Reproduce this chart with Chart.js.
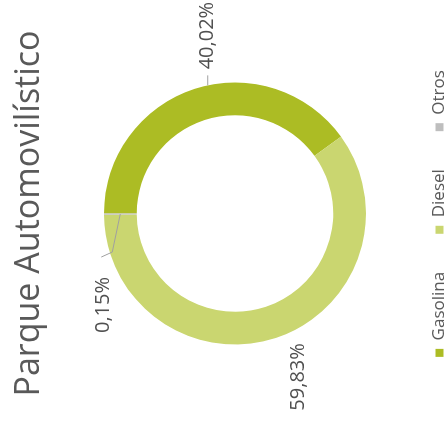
<!DOCTYPE html>
<html>
<head>
<meta charset="utf-8">
<script src="https://cdn.jsdelivr.net/npm/chart.js@4.4.0/dist/chart.umd.min.js"></script>
<style>
  html, body { margin: 0; padding: 0; background: #fff; overflow: hidden; }
  /* the whole chart is turned a quarter to the left, like the scanned page */
  #wrap { position: absolute; left: 0; top: 0; width: 427px; height: 458px;
          transform-origin: 0 0; transform: translate(0, 427px) rotate(-90deg); }
</style>
</head>
<body>
<div id="wrap"><canvas id="myChart1" width="427" height="458"></canvas></div>
<script>
let fuelTypes = ["Gasolina", "Diesel", "Otros"];
let fuelShares = [40.02, 59.83, 0.15];
let fuelColors = ['rgb(172,188,36)', 'rgb(202,214,112)', 'rgb(190,190,190)'];

// percent labels next to the ring, with leader lines
const pctLabels = {
  id: 'pctLabels',
  afterDatasetsDraw(chart, args, opts) {
    const ctx = chart.ctx;
    const meta = chart.getDatasetMeta(0);
    ctx.save();
    ctx.font = opts.font;
    ctx.fillStyle = opts.color;
    ctx.strokeStyle = opts.lineColor;
    ctx.lineWidth = 1;
    ctx.textBaseline = 'middle';
    meta.data.forEach((arc, i) => {
      const s = opts.spots[i];
      const a = (arc.startAngle + arc.endAngle) / 2 + s.turn * Math.PI / 180;
      const r = s.ring === 'mid' ? (arc.innerRadius + arc.outerRadius) / 2 : arc.outerRadius;
      const x0 = arc.x + r * Math.cos(a), y0 = arc.y + r * Math.sin(a);
      if (s.line) {
        ctx.beginPath();
        ctx.moveTo(x0, y0);
        s.line.forEach(p => ctx.lineTo(x0 + p[0], y0 + p[1]));
        ctx.stroke();
      }
      ctx.textAlign = s.align;
      let txt = chart.data.datasets[0].data[i].toFixed(2).replace('.', ',') + '%';
      ctx.fillText(txt, x0 + s.text[0], y0 + s.text[1]);
    });
    ctx.restore();
  }
};

let chart = new Chart(document.getElementById('myChart1'), {
  type: 'doughnut',
  data: {
    labels: fuelTypes,
    datasets: [{
      data: fuelShares,
      backgroundColor: fuelColors,
      borderWidth: 0,
      radius: 131,
      cutout: '75%'
    }]
  },
  options: {
    responsive: false,
    animation: false,
    layout: { padding: 0 },
    plugins: {
      title: {
        display: true,
        text: 'Parque Automovilístico',
        color: '#595959',
        font: { family: 'Open Sans', size: 34, weight: 'normal' },
        padding: { top: 9, bottom: 27 }
      },
      legend: {
        position: 'bottom',
        labels: {
          boxWidth: 8, boxHeight: 8, padding: 38,
          color: '#595959',
          font: { family: 'Open Sans', size: 17 }
        }
      },
      tooltip: { enabled: false },
      pctLabels: {
        font: '20px "Open Sans"',
        color: '#505050',
        lineColor: '#a0a0a0',
        spots: [
          { turn: 6, ring: 'outer', line: [[10, 0]], align: 'left', text: [16, 0] },
          { turn: 0, ring: 'outer', align: 'center', text: [-39, 22] },
          { turn: 0, ring: 'mid', line: [[-38, -8], [-43, -19]], align: 'right', text: [-63, -17] }
        ]
      }
    }
  },
  plugins: [pctLabels]
});
</script>
</body>
</html>
